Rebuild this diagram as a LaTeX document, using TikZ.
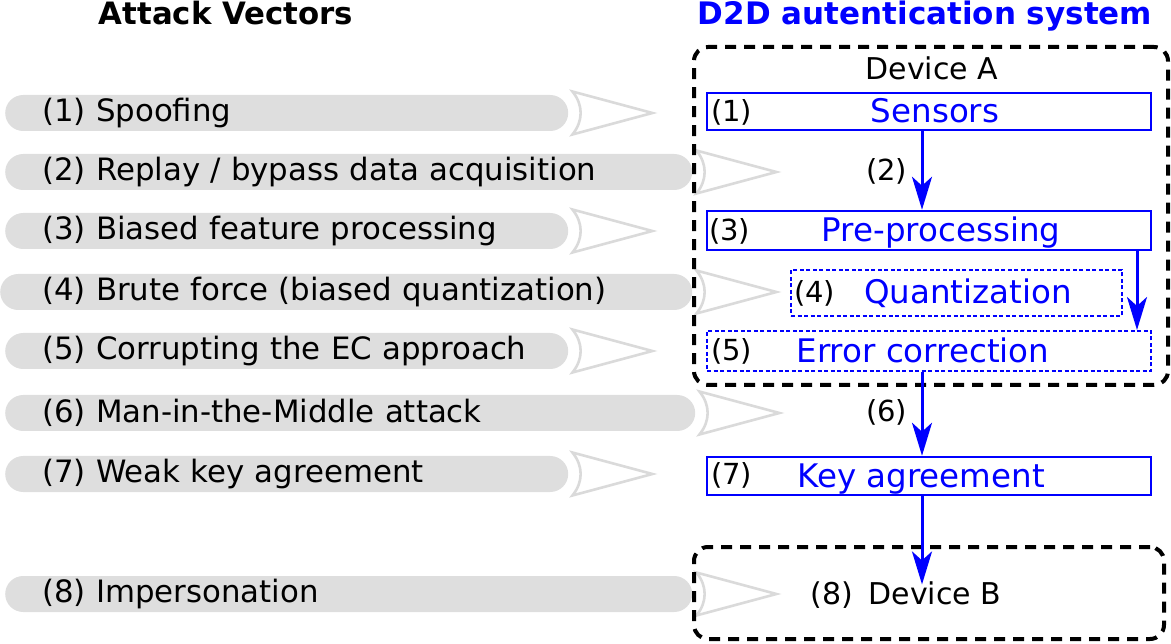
\documentclass[tikz,border=0pt]{standalone}
\usepackage{fontspec}
\setmainfont{DejaVu Sans}
\usetikzlibrary{positioning,arrows.meta,calc}
\definecolor{pillgray}{HTML}{DEDEDE}
\definecolor{tipgray}{HTML}{DADADA}
\definecolor{sysblue}{HTML}{0000FF}
\tikzset{
  >=Stealth,
  vector/.style={fill=pillgray, rounded corners=18pt, minimum height=36pt,
    inner xsep=37pt, inner ysep=0pt, align=left, anchor=west,
    font=\fontsize{30.8}{36}\selectfont},
  pics/vecarrow/.style={code={
    \draw[tipgray, line width=2.6pt, fill=white]
      (0,-21.5) -- (80,0) -- (0,21.5) .. controls (11,8) and (11,-8) .. (0,-21.5) -- cycle;
  }},
  device/.style={draw, dash pattern=on 11pt off 8pt, line width=4pt,
    rounded corners=14pt, inner sep=0pt},
  block/.style={draw=sysblue, line width=2.5pt, inner sep=0pt},
  softblock/.style={draw=sysblue, line width=2pt, dash pattern=on 4pt off 2.5pt, inner sep=0pt},
  num/.style={font=\fontsize{29}{34}\selectfont, anchor=west, inner sep=0pt},
  stage/.style={text=sysblue, font=\fontsize{32.5}{38}\selectfont, anchor=base, inner sep=0pt},
  flow/.style={->, draw=sysblue, line width=3pt,
    >={Stealth[length=33pt, width=20pt, inset=9pt]}, shorten >=0pt},
}
\begin{document}
\begin{tikzpicture}[x=1pt, y=-1pt]
\useasboundingbox (0,0) rectangle (1171,644);

% titles
\node[font=\fontsize{30.8}{36}\selectfont\bfseries, anchor=base] (attT) at (226,25) {Attack Vectors};
\node[font=\fontsize{31}{36}\selectfont\bfseries, text=sysblue, anchor=base] (sysT) at (925,25) {D2D autentication system};

% attack vectors
\node[vector, text width=489pt] (v1) at (5,113) {(1) Spoofing};
\node[vector, text width=613pt] (v2) at (5,172) {(2) Replay / bypass data acquisition};
\node[vector, text width=489pt] (v3) at (5,231) {(3) Biased feature processing};
\node[vector, text width=608pt, inner xsep=42pt] (v4) at (0,292) {(4) Brute force (biased quantization)};
\node[vector, text width=489pt] (v5) at (5,351) {(5) Corrupting the EC approach};
\node[vector, text width=616pt] (v6) at (5,413) {(6) Man-in-the-Middle attack};
\node[vector, text width=489pt] (v7) at (5,474) {(7) Weak key agreement};
\node[vector, text width=613pt] (v8) at (5,594) {(8) Impersonation};

\pic at ([xshift=4pt]v1.east) {vecarrow};
\pic at ([xshift=4pt]v2.east) {vecarrow};
\pic at ([xshift=4pt]v3.east) {vecarrow};
\pic at ([xshift=4pt]v4.east) {vecarrow};
\pic at ([xshift=4pt]v5.east) {vecarrow};
\pic at ([xshift=4pt]v6.east) {vecarrow};
\pic at ([xshift=4pt]v7.east) {vecarrow};
\pic at ([xshift=4pt]v8.east) {vecarrow};

% devices
\node[device, minimum width=474pt, minimum height=338pt] (devA) at (931,216) {};
\node[device, minimum width=470pt, minimum height=92pt] (devB) at (929,593) {};
\node[font=\fontsize{30}{35}\selectfont, inner sep=0pt] (devAT) at (932,68) {Device A};

% stages
\node[block, minimum width=444pt, minimum height=37pt] (sens) at (929,111.5) {};
\node[block, minimum width=444pt, minimum height=39pt] (pre) at (929,230.5) {};
\node[softblock, minimum width=331pt, minimum height=46pt] (quant) at (956.5,293) {};
\node[softblock, minimum width=444pt, minimum height=40pt] (err) at (929,351) {};
\node[block, minimum width=444pt, minimum height=38pt] (key) at (929,476) {};

\node[stage] (sensT) at (935,123) {Sensors};
\node[stage] (preT) at (941,242) {Pre-processing};
\node[stage] (quantT) at (968,304) {Quantization};
\node[stage] (errT) at (923,363) {Error correction};
\node[stage] (keyT) at (921,487) {Key agreement};

\node[num] (n1) at (711,112) {(1)};
\node[num] (n3) at (709,231) {(3)};
\node[num] (n4) at (794,293) {(4)};
\node[num] (n5) at (711,351) {(5)};
\node[num] (n7) at (711,475) {(7)};
\node[num] (n2) at (866,171) {(2)};
\node[num] (n6) at (866,412) {(6)};
\node[font=\fontsize{30}{35}\selectfont, inner sep=0pt] (devBT) at (906,595) {(8)\hspace{6pt} Device B};

% flow
\coordinate (axis) at (922,0);
\coordinate (side) at (1137,0);
\draw[flow] (axis |- sens.south) -- (axis |- pre.north);
\draw[flow] (side |- pre.south) -- (side |- err.north);
\draw[flow] (axis |- err.south) -- (axis |- key.north);
\draw[flow] (axis |- key.south) -- ([yshift=-3pt]axis |- devBT.north);
\end{tikzpicture}
\end{document}
